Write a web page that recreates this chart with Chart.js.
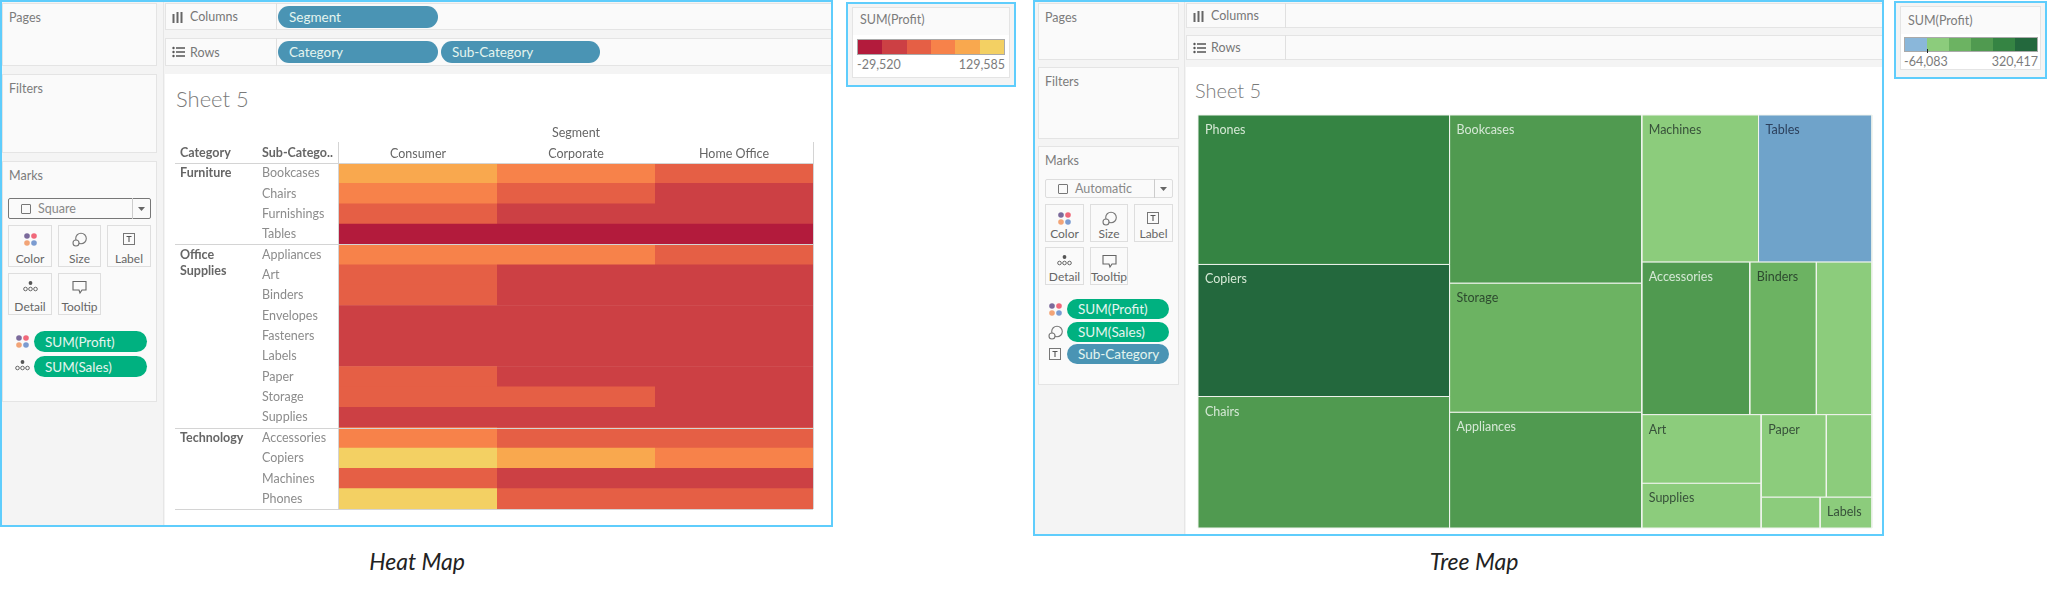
<!DOCTYPE html>
<html>
<head>
<meta charset="utf-8">
<title>Heat Map and Tree Map</title>
<script src="https://cdn.jsdelivr.net/npm/chart.js@4"></script>
<style>
html, body { margin: 0; padding: 0; background: #fff; width: 2048px; height: 589px; overflow: hidden; }
body { position: relative; font-family: Lato, "Open Sans", sans-serif; color: #777; }
svg { display: block; }
.abs { position: absolute; box-sizing: border-box; }
.txt { position: absolute; white-space: nowrap; line-height: 1; }
.frame { border: 2px solid #5fcdfc; }
.panel { background: #fafafa; border: 1px solid #e4e4e4; }
.card { background: #fafafa; border: 1px solid #dedede; }
.pill { position: absolute; box-sizing: border-box; border-radius: 11px; color: #e4f5ef; font-size: 13.5px; display: flex; align-items: center; padding-left: 11px; white-space: nowrap; }
canvas { position: absolute; }
</style>
</head>
<body>
<div id="back"></div>
<canvas id="heat" style="left:175px;top:122px" width="641" height="390"></canvas>
<canvas id="tree" style="left:1197px;top:114px" width="676" height="415"></canvas>
<script>
// heat map values
const segments = ['Consumer', 'Corporate', 'Home Office'];
const subCategories = ['Bookcases', 'Chairs', 'Furnishings', 'Tables', 'Appliances', 'Art', 'Binders', 'Envelopes', 'Fasteners', 'Labels', 'Paper', 'Storage', 'Supplies', 'Accessories', 'Copiers', 'Machines', 'Phones'];
const consumerProfit = [82000, 60000, 25000, -29520, 70000, 30000, 36000, 15000, 7000, 8000, 30000, 49000, 11000, 65000, 129585, 28000, 112000];
const corporateProfit = [55000, 38000, 15000, -20000, 51000, 18000, 23000, 9000, 4000, 4500, 17000, 34000, 7000, 40000, 84000, 20000, 48000];
const homeOfficeProfit = [27000, 21000, 8000, -14000, 24000, 9000, 12000, 5000, 2500, 2500, 11000, 22000, 4000, 24000, 53000, 10000, 30000];
const categoryLines = [['Furniture'], ['Office', 'Supplies'], ['Technology']];
const categoryStarts = [0, 4, 13];
const heatRange = [-29520, 129585];
const heatRangeLabels = ['-29,520', '129,585'];
const heatColors = ['#b31b3c', '#cc4044', '#e55f45', '#f7824a', '#f9a84e', '#f3d063'];

// tree map values
const treeNames = ['Phones', 'Copiers', 'Chairs', 'Bookcases', 'Storage', 'Appliances', 'Machines', 'Tables', 'Accessories', 'Binders', 'Furnishings', 'Art', 'Supplies', 'Paper', 'Envelopes', 'Fasteners', 'Labels'];
const treeSales = [1707000, 1509000, 1502000, 1467000, 1127000, 1011000, 779000, 757000, 749000, 462000, 386000, 372000, 243000, 244000, 171000, 83000, 73000];
const treeProfit = [217000, 259000, 140000, 162000, 108000, 142000, 59000, -64083, 130000, 72000, 47000, 58000, 23000, 59000, 30000, 14000, 15000];
const treeUnlabelled = ['Furnishings', 'Envelopes', 'Fasteners'];
const treeRange = [-64083, 320417];
const treeRangeLabels = ['-64,083', '320,417'];
const treeColors = ['#6fa3ca', '#8ccc7c', '#6cb362', '#509a50', '#358443', '#23683d'];
const treeLegendColors = ['#8ab7da', '#8ccc7c', '#6cb362', '#509a50', '#358443', '#23683d'];
const treeTextColors = ['#2c405c', '#37513a', '#2d4a2f', '#d5e8d5', '#d5e8d5', '#d5e8d5'];
// split order of the squarified layout
const treeLayout = ['h',
    ['v', 'Phones', 'Copiers', 'Chairs'],
    ['v', 'Bookcases', 'Storage', 'Appliances'],
    ['v',
        ['h', 'Machines', 'Tables'],
        ['h', 'Accessories', 'Binders', 'Furnishings'],
        ['h', ['v', 'Art', 'Supplies'], ['v', ['h', 'Paper', 'Envelopes'], ['h', 'Fasteners', 'Labels']]]]];

const FONT = 'Lato, "Open Sans", sans-serif';
const level = (v, range) => Math.min(5, Math.floor((v - range[0]) / ((range[1] - range[0]) / 6)));

// ---- page furniture -------------------------------------------------------
const back = document.getElementById('back');
const add = (cls, x, y, w, h, css) => {
    const d = document.createElement('div');
    d.className = 'abs ' + cls;
    d.style.cssText = `left:${x}px;top:${y}px;width:${w}px;height:${h}px;${css || ''}`;
    back.appendChild(d);
    return d;
};
const label = (str, x, cy, size, css) => {
    const d = document.createElement('div');
    d.className = 'txt';
    d.textContent = str;
    d.style.cssText = `left:${x}px;top:${cy - size / 2 + 0.5}px;font-size:${size}px;${css || ''}`;
    document.body.appendChild(d);
    return d;
};
const svgIcon = (inner, x, y, w, h) => {
    const d = document.createElement('div');
    d.className = 'abs';
    d.style.cssText = `left:${x}px;top:${y}px;width:${w}px;height:${h}px`;
    d.innerHTML = `<svg width="${w}" height="${h}" viewBox="0 0 ${w} ${h}">${inner}</svg>`;
    document.body.appendChild(d);
};
const ICONS = {
    color: '<circle cx="4" cy="4" r="2.8" fill="#7b6a9b"/><circle cx="11" cy="4" r="2.8" fill="#f0687a"/><circle cx="4" cy="11" r="2.8" fill="#f2a477"/><circle cx="11" cy="11" r="2.8" fill="#7b9bd0"/>',
    size: '<circle cx="9" cy="6.5" r="5.3" fill="none" stroke="#777" stroke-width="1.1"/><circle cx="4" cy="11" r="3" fill="#fafafa" stroke="#777" stroke-width="1.1"/>',
    label: '<rect x="1.5" y="1.5" width="11" height="11" fill="none" stroke="#777"/><path d="M4.5 4.5h5M7 4.5v5.5" stroke="#555" stroke-width="1.1" fill="none"/>',
    detail: '<circle cx="7.5" cy="3" r="1.9" fill="#555"/><circle cx="2.5" cy="9" r="1.8" fill="none" stroke="#666"/><circle cx="7.5" cy="9" r="1.8" fill="none" stroke="#666"/><circle cx="12.5" cy="9" r="1.8" fill="none" stroke="#666"/>',
    tooltip: '<path d="M1 1.5h13v8.5h-4l-2 3-1-3H1z" fill="none" stroke="#666" stroke-width="1.1"/>',
    columns: '<path d="M1.5 3v9M5.5 1v11M9.5 1v11" stroke="#666" stroke-width="2" fill="none"/>',
    rows: '<circle cx="1.5" cy="2" r="1.2" fill="#555"/><circle cx="1.5" cy="6" r="1.2" fill="#555"/><circle cx="1.5" cy="10" r="1.2" fill="#555"/><path d="M4 2h9M4 6h9M4 10h9" stroke="#555" stroke-width="1.6"/>'
};

const drawShell = (s) => {
    add('', s.x, 1, s.w, s.h, 'background:#f4f4f4');
    add('', s.viewX, s.viewY, s.x + s.w - s.viewX, s.y2 - s.viewY, 'background:#fff');
    add('', s.viewX - 2, 1, 1, s.h, 'background:#e6e6e6');
    s.boxes.forEach((b, i) => {
        add('panel', s.leftX, b[0], s.leftW, b[1] - b[0]);
        label(['Pages', 'Filters', 'Marks'][i], s.leftX + 7, b[0] + 15, 12.5, 'color:#7c7c7c');
    });
    s.shelves.forEach((b, i) => {
        add('panel', s.viewX, b[0], s.x + s.w - s.viewX, b[1] - b[0]);
        add('', s.shelfSep, b[0], 1, b[1] - b[0], 'background:#e0e0e0');
        label(['Columns', 'Rows'][i], s.viewX + 25, (b[0] + b[1]) / 2 + 0.5, 12.5, 'color:#777');
        svgIcon(i ? ICONS.rows : ICONS.columns, s.viewX + 7, (b[0] + b[1]) / 2 - 6, 14, 13);
    });
    label('Sheet 5', s.titleX, s.titleY, s.titleSize, 'color:#7a7a7a;font-weight:300');
    add('card', s.drop[0], s.drop[1], s.drop[2], s.drop[3], `border-color:${s.dropBorder};border-radius:2px`);
    add('', s.drop[0] + s.drop[2] - 19, s.drop[1], 1, s.drop[3], 'background:#ccc');
    add('', s.drop[0] + 13, s.drop[1] + s.drop[3] / 2 - 5, 10, 10, 'border:1px solid #777;border-radius:1px');
    label(s.mark, s.drop[0] + 30, s.drop[1] + s.drop[3] / 2, 12.5, 'color:#888');
    svgIcon('<path d="M0 0h7L3.5 4z" fill="#666"/>', s.drop[0] + s.drop[2] - 13, s.drop[1] + s.drop[3] / 2 - 2, 7, 4);
    s.cards.forEach((c) => {
        add('card', c.x, c.y, c.w, c.h);
        svgIcon(ICONS[c.icon], c.x + c.w / 2 - 7.5, c.y + 7, 16, 15);
        label(c.name, c.x + c.w / 2, c.y + c.h - 9, 12, 'color:#666;transform:translateX(-50%)');
    });
    s.pills.forEach((p) => {
        const d = document.createElement('div');
        d.className = 'pill';
        d.textContent = p.text;
        d.style.cssText = `left:${p.x}px;top:${p.y}px;width:${p.w}px;height:${p.h}px;background:${p.color}`;
        document.body.appendChild(d);
        if (p.icon) svgIcon(ICONS[p.icon], p.x - 19, p.y + p.h / 2 - 7.5, 16, 15);
    });
    // frame goes on top of the panels
    const f = document.createElement('div');
    f.className = 'abs frame';
    f.style.cssText = `left:${s.x}px;top:0;width:${s.w}px;height:${s.h + 1}px;pointer-events:none`;
    document.body.appendChild(f);
};

const drawLegend = (l) => {
    add('', l.x, l.y, l.w, l.h, 'background:#f4f4f4;border:2px solid #5fcdfc');
    add('', l.x + 6, l.y + 5, l.w - 12, l.h - 14, 'background:#fff;border:1px solid #e4e4e4');
    add('', l.x + 7, l.y + 6, l.w - 14, l.titleH, 'background:#fafafa');
    label('SUM(Profit)', l.x + 14, l.titleY, 12.5, 'color:#7c7c7c');
    const ramp = document.createElement('div');
    ramp.className = 'abs';
    ramp.style.cssText = `left:${l.rampX}px;top:${l.rampY}px;width:${l.rampW}px;height:${l.rampH}px;display:flex;border:1px solid #aaa`;
    l.colors.forEach((c) => {
        const seg = document.createElement('div');
        seg.style.cssText = `flex:1;background:${c}`;
        ramp.appendChild(seg);
    });
    document.body.appendChild(ramp);
    label(l.labels[0], l.rampX, l.rampY + l.rampH + 9.5, 12.5, 'color:#7c7c7c');
    label(l.labels[1], l.rampX + l.rampW, l.rampY + l.rampH + 9.5, 12.5, 'color:#7c7c7c;transform:translateX(-100%)');
};

const GREEN = '#00b180';
const BLUE = '#4a94b4';
drawShell({
    x: 0, w: 833, h: 526, y2: 527, viewX: 165, viewY: 74, leftX: 2, leftW: 155,
    boxes: [[3, 66], [74, 153], [161, 402]],
    shelves: [[3, 30], [38, 66]], shelfSep: 276,
    titleX: 176, titleY: 98.5, titleSize: 22,
    mark: 'Square', drop: [8, 198, 143, 21], dropBorder: '#777',
    cards: [
        { name: 'Color', icon: 'color', x: 8, y: 225, w: 44, h: 42 },
        { name: 'Size', icon: 'size', x: 58, y: 225, w: 43, h: 42 },
        { name: 'Label', icon: 'label', x: 107, y: 225, w: 44, h: 42 },
        { name: 'Detail', icon: 'detail', x: 8, y: 273, w: 44, h: 42 },
        { name: 'Tooltip', icon: 'tooltip', x: 58, y: 273, w: 43, h: 42 }
    ],
    pills: [
        { text: 'Segment', x: 278, y: 6, w: 160, h: 22, color: BLUE },
        { text: 'Category', x: 278, y: 41, w: 160, h: 22, color: BLUE },
        { text: 'Sub-Category', x: 441, y: 41, w: 159, h: 22, color: BLUE },
        { text: 'SUM(Profit)', x: 34, y: 331, w: 113, h: 21, color: GREEN, icon: 'color' },
        { text: 'SUM(Sales)', x: 34, y: 356, w: 113, h: 21, color: GREEN, icon: 'detail' }
    ]
});
drawShell({
    x: 1033, w: 851, h: 535, y2: 536, viewX: 1186, viewY: 67, leftX: 1038, leftW: 141,
    boxes: [[3, 60], [67, 139], [146, 385]],
    shelves: [[3, 28], [35, 60]], shelfSep: 1285,
    titleX: 1195, titleY: 89, titleSize: 20,
    mark: 'Automatic', drop: [1045, 179, 128, 19], dropBorder: '#ddd',
    cards: [
        { name: 'Color', icon: 'color', x: 1045, y: 204, w: 39, h: 38 },
        { name: 'Size', icon: 'size', x: 1090, y: 204, w: 38, h: 38 },
        { name: 'Label', icon: 'label', x: 1134, y: 204, w: 39, h: 38 },
        { name: 'Detail', icon: 'detail', x: 1045, y: 247, w: 39, h: 38 },
        { name: 'Tooltip', icon: 'tooltip', x: 1090, y: 247, w: 38, h: 38 }
    ],
    pills: [
        { text: 'SUM(Profit)', x: 1067, y: 299, w: 102, h: 20, color: GREEN, icon: 'color' },
        { text: 'SUM(Sales)', x: 1067, y: 322, w: 102, h: 20, color: GREEN, icon: 'size' },
        { text: 'Sub-Category', x: 1067, y: 344, w: 102, h: 20, color: BLUE, icon: 'label' }
    ]
});
drawLegend({ x: 846, y: 2, w: 170, h: 85, titleH: 27, titleY: 20, rampX: 857, rampY: 39, rampW: 148, rampH: 16, colors: heatColors, labels: heatRangeLabels });
drawLegend({ x: 1894, y: 1, w: 153, h: 78, titleH: 27, titleY: 20.5, rampX: 1904, rampY: 37, rampW: 134, rampH: 15, colors: treeLegendColors, labels: treeRangeLabels });
document.body.appendChild(add('', 1927, 49, 1, 4, 'background:#222'));
label('Heat Map', 417, 561, 23, 'color:#222;font-style:italic;transform:translateX(-50%)');
label('Tree Map', 1474, 561, 23, 'color:#222;font-style:italic;transform:translateX(-50%)');

// ---- heat map -------------------------------------------------------------
const heatDecor = {
    id: 'heatDecor',
    afterDatasetsDraw(chart) {
        const { ctx, scales: { x, y } } = chart;
        const rowH = (y.bottom - y.top) / subCategories.length;
        ctx.save();
        ctx.textBaseline = 'middle';
        ctx.textAlign = 'left';
        ctx.font = `bold 12.5px ${FONT}`;
        ctx.fillStyle = '#666';
        ctx.fillText('Category', 5, y.top - 10);
        ctx.fillText('Sub-Catego..', 87, y.top - 10);
        categoryLines.forEach((lines, i) => {
            const cy = y.getPixelForValue(categoryStarts[i]);
            lines.forEach((t, j) => ctx.fillText(t, 5, cy + j * 16));
        });
        ctx.strokeStyle = '#d4d4d4';
        ctx.lineWidth = 1;
        ctx.beginPath();
        categoryStarts.forEach((start) => {
            const py = Math.round(y.getPixelForValue(start) - rowH / 2) + 0.5;
            ctx.moveTo(0, py);
            ctx.lineTo(x.right, py);
        });
        ctx.moveTo(0, Math.round(y.bottom) + 0.5);
        ctx.lineTo(x.right, Math.round(y.bottom) + 0.5);
        ctx.moveTo(x.left - 0.5, y.top - 21);
        ctx.lineTo(x.left - 0.5, y.bottom);
        ctx.moveTo(x.right + 0.5, y.top - 21);
        ctx.lineTo(x.right + 0.5, y.bottom);
        ctx.stroke();
        ctx.restore();
    }
};

const heatSet = (name, profit) => ({
    label: name,
    data: subCategories.map(() => 1),
    backgroundColor: profit.map((v) => heatColors[level(v, heatRange)]),
    borderWidth: 0,
    categoryPercentage: 1.03,
    barPercentage: 1
});

new Chart(document.getElementById('heat'), {
    type: 'bar',
    data: {
        labels: subCategories,
        datasets: [
            heatSet(segments[0], consumerProfit),
            heatSet(segments[1], corporateProfit),
            heatSet(segments[2], homeOfficeProfit)
        ]
    },
    options: {
        indexAxis: 'y',
        responsive: false,
        animation: false,
        layout: { padding: { left: 87, right: 3, top: 0, bottom: 3 } },
        plugins: { legend: { display: false }, tooltip: { enabled: false } },
        scales: {
            x: {
                type: 'linear', position: 'top', stacked: true, min: 0, max: 3,
                grid: { display: false, drawTicks: false },
                border: { display: false },
                afterBuildTicks: (s) => { s.ticks = segments.map((_, i) => ({ value: i + 0.5 })); },
                afterFit: (s) => { s.height = 41; s.paddingLeft = s.paddingRight = 0; },
                title: { display: true, text: 'Segment', color: '#666', font: { family: FONT, size: 12.5 }, padding: { top: 3, bottom: 8 } },
                ticks: {
                    autoSkip: false, maxRotation: 0, padding: 2, color: '#666',
                    font: { family: FONT, size: 12.5 },
                    callback: (v) => segments[v - 0.5]
                }
            },
            y: {
                stacked: true,
                grid: { display: false, drawTicks: false },
                border: { display: false },
                afterFit: (s) => { s.width = 77; s.paddingTop = s.paddingBottom = 0; },
                ticks: {
                    autoSkip: false, crossAlign: 'far', padding: 0, color: '#8c8c8c',
                    font: { family: FONT, size: 12.5 }
                }
            }
        }
    },
    plugins: [heatDecor]
});

// ---- tree map -------------------------------------------------------------
const salesOf = (node) => typeof node === 'string'
    ? treeSales[treeNames.indexOf(node)]
    : node.slice(1).reduce((sum, n) => sum + salesOf(n), 0);

const layOut = (node, x0, y0, x1, y1, out) => {
    if (typeof node === 'string') {
        out[node] = { x0, y0, x1, y1 };
        return out;
    }
    const total = salesOf(node);
    let pos = node[0] === 'h' ? x0 : y0;
    node.slice(1).forEach((child) => {
        const share = salesOf(child) / total;
        if (node[0] === 'h') {
            const next = pos + share * (x1 - x0);
            layOut(child, pos, y0, next, y1, out);
            pos = next;
        } else {
            const next = pos + share * (y1 - y0);
            layOut(child, x0, pos, x1, next, out);
            pos = next;
        }
    });
    return out;
};
const treeRects = layOut(treeLayout, 0, 0, 1, 1, {});

const treeLabels = {
    id: 'treeLabels',
    afterDatasetsDraw(chart) {
        const { ctx, scales: { x, y } } = chart;
        ctx.save();
        ctx.font = `12.5px ${FONT}`;
        ctx.textBaseline = 'middle';
        ctx.textAlign = 'left';
        treeNames.forEach((name, i) => {
            if (treeUnlabelled.includes(name)) return;
            const r = treeRects[name];
            ctx.fillStyle = treeTextColors[level(treeProfit[i], treeRange)];
            ctx.fillText(name, x.getPixelForValue(r.x0) + 7, y.getPixelForValue(r.y0) + 15);
        });
        ctx.restore();
    }
};

new Chart(document.getElementById('tree'), {
    type: 'scatter',
    data: {
        datasets: treeNames.map((name, i) => {
            const r = treeRects[name];
            return {
                label: name,
                data: [{ x: r.x0, y: r.y0 }, { x: r.x1, y: r.y0 }, { x: r.x1, y: r.y1 }, { x: r.x0, y: r.y1 }, { x: r.x0, y: r.y0 }],
                showLine: true,
                fill: 'shape',
                tension: 0,
                pointRadius: 0,
                clip: false,
                borderWidth: 1,
                borderColor: '#f0f4ee',
                backgroundColor: treeColors[level(treeProfit[i], treeRange)]
            };
        })
    },
    options: {
        responsive: false,
        animation: false,
        layout: { padding: 1 },
        plugins: { legend: { display: false }, tooltip: { enabled: false } },
        scales: {
            x: { type: 'linear', min: 0, max: 1, display: false },
            y: { type: 'linear', min: 0, max: 1, reverse: true, display: false }
        }
    },
    plugins: [treeLabels]
});
</script>
</body>
</html>
